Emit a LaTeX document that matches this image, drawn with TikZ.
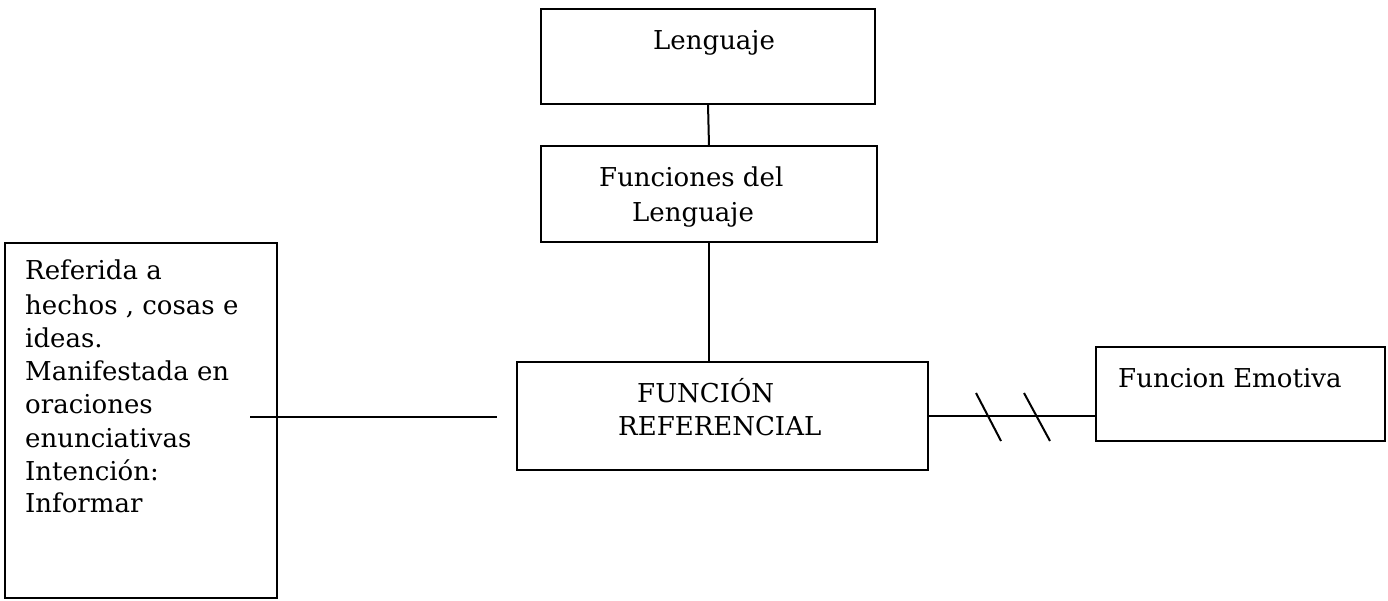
\documentclass[tikz,border=0pt]{standalone}
\usepackage{fontspec}
\setmainfont{DejaVu Serif}
\begin{document}
\begin{tikzpicture}[x=1pt,y=-1pt,
  box/.style={draw=black, line width=2pt, inner sep=0pt, outer sep=0pt, anchor=north west},
  lbl/.style={inner sep=0pt, anchor=base west, font=\fontsize{26}{33}\selectfont},
  conn/.style={draw=black, line width=2pt}]
\useasboundingbox (0,0) rectangle (1388,601);
% boxes
\node[box, minimum width=334pt, minimum height=95pt] (len) at (541,9) {};
\node[box, minimum width=336pt, minimum height=96pt] (fdl) at (541,146) {};
\node[box, minimum width=411pt, minimum height=108pt] (fr) at (517,362) {};
\node[box, minimum width=289pt, minimum height=94pt] (fe) at (1096,347) {};
\node[box, minimum width=272pt, minimum height=355pt] (lb) at (5,243) {};
% texts
\node[lbl] (tlen) at (653,50) {Lenguaje};
\node[lbl] (tfdl1) at (599,187) {Funciones del};
\node[lbl] (tfdl2) at (632,222) {Lenguaje};
\node[lbl] (tfr1) at (637,402) {FUNCIÓN};
\node[lbl] (tfr2) at (618,435) {REFERENCIAL};
\node[lbl] (tfe) at (1118,387) {Funcion Emotiva};
\node[lbl] (tlb1) at (25,280) {Referida a};
\node[lbl] (tlb2) at (25,314) {hechos , cosas e};
\node[lbl] (tlb3) at (25,347) {ideas.};
\node[lbl] (tlb4) at (25,380) {Manifestada en};
\node[lbl] (tlb5) at (25,413) {oraciones};
\node[lbl] (tlb6) at (25,447) {enunciativas};
\node[lbl] (tlb7) at (25,480) {Intención:};
\node[lbl] (tlb8) at (25,512) {Informar};
% connectors
\draw[conn] (len.south) -- (fdl.north);
\draw[conn] (fdl.south) -- (fdl.south |- fr.north);
\coordinate (la) at (250,417);
\coordinate (lz) at (497,417);
\draw[conn] (la) -- (lz);
\draw[conn] (fr.east) -- (fr.east -| fe.west);
% break marks
\coordinate (s1a) at (976,393);
\coordinate (s1b) at (1001,441);
\coordinate (s2a) at (1024,393);
\coordinate (s2b) at (1050,441);
\draw[conn] (s1a) -- (s1b);
\draw[conn] (s2a) -- (s2b);
\end{tikzpicture}
\end{document}
